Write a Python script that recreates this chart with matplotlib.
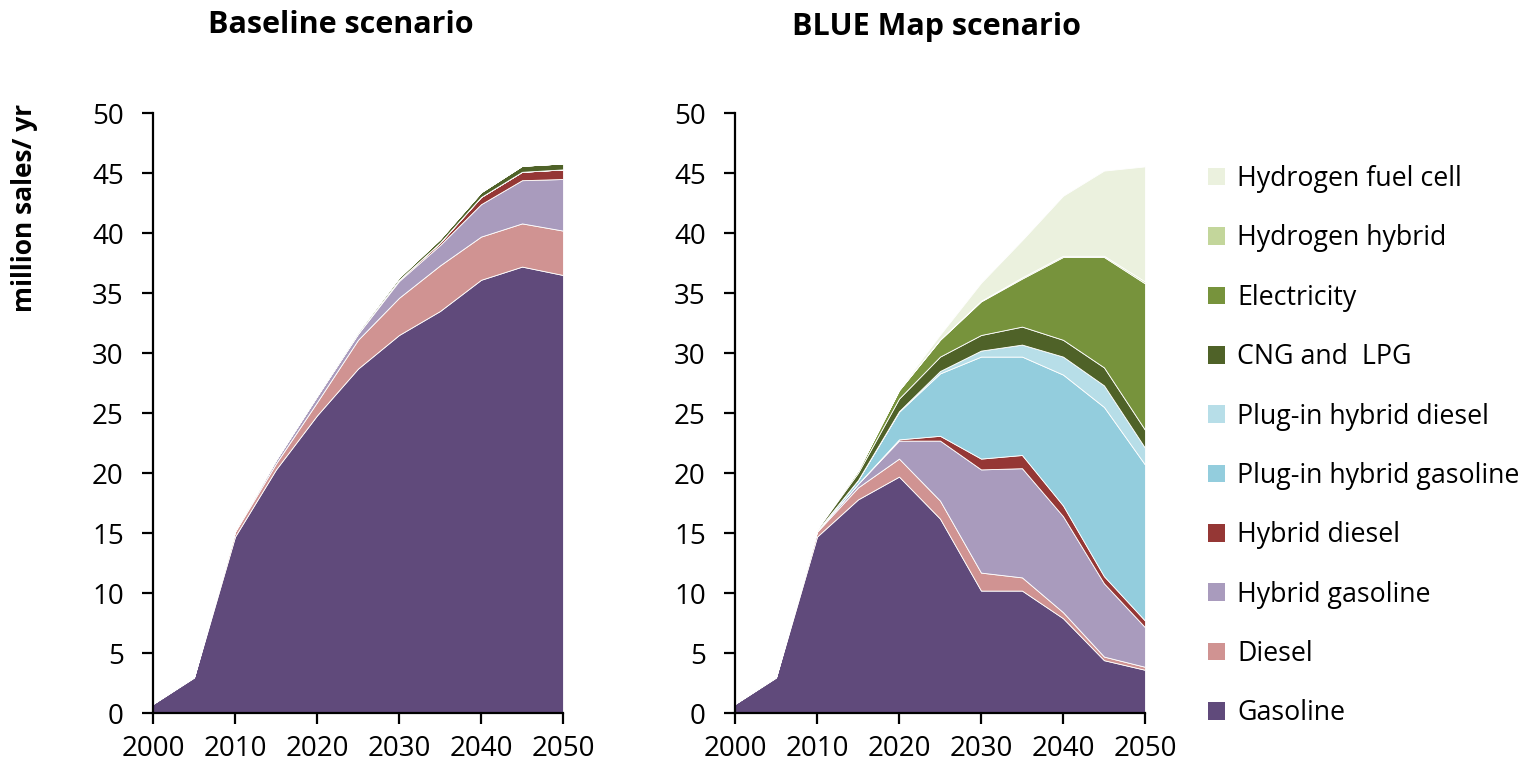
import matplotlib
matplotlib.use('Agg')
import matplotlib.pyplot as plt

plt.rcParams['font.family'] = ['Open Sans', 'DejaVu Sans']

# ---------- data (million sales / yr) ----------
years = [2000, 2005, 2010, 2015, 2020, 2025, 2030, 2035, 2040, 2045, 2050]

labels = ["Gasoline", "Diesel", "Hybrid gasoline", "Hybrid diesel",
          "Plug-in hybrid gasoline", "Plug-in hybrid diesel", "CNG and  LPG",
          "Electricity", "Hydrogen hybrid", "Hydrogen fuel cell"]
colors = ["#604A7B", "#D09392", "#A99BBD", "#953735", "#93CDDD",
          "#B7DEE8", "#4F6228", "#77933C", "#C3D69B", "#EBF1DE"]

# Baseline scenario
base_gasoline = [0.75, 2.95, 14.7, 20.3, 24.8, 28.7, 31.5, 33.5, 36.1, 37.2, 36.5]
base_diesel = [0.03, 0.05, 0.4, 0.5, 1.1, 2.4, 3.1, 3.8, 3.6, 3.6, 3.7]
base_hyb_gas = [0, 0, 0.05, 0.3, 0.5, 0.5, 1.4, 1.7, 2.7, 3.6, 4.3]
base_hyb_dsl = [0, 0, 0, 0, 0.02, 0.05, 0.1, 0.2, 0.6, 0.7, 0.8]
base_phev_gas = [0, 0, 0, 0, 0, 0, 0, 0, 0, 0, 0]
base_phev_dsl = [0, 0, 0, 0, 0, 0, 0, 0, 0, 0, 0]
base_cng = [0.03, 0.05, 0.1, 0.1, 0.1, 0.15, 0.2, 0.3, 0.4, 0.5, 0.5]
base_elec = [0, 0, 0, 0, 0, 0, 0, 0, 0, 0, 0]
base_h2_hyb = [0, 0, 0, 0, 0, 0, 0, 0, 0, 0, 0]
base_h2_fc = [0, 0, 0, 0, 0, 0, 0, 0, 0, 0, 0]

# BLUE Map scenario
blue_gasoline = [0.75, 2.95, 14.7, 17.8, 19.7, 16.2, 10.2, 10.2, 7.9, 4.4, 3.6]
blue_diesel = [0.03, 0.05, 0.4, 1.0, 1.5, 1.5, 1.5, 1.1, 0.5, 0.3, 0.25]
blue_hyb_gas = [0, 0, 0.05, 0.3, 1.5, 5.0, 8.6, 9.1, 8.0, 6.1, 3.3]
blue_hyb_dsl = [0, 0, 0, 0, 0.1, 0.4, 0.9, 1.1, 0.9, 0.6, 0.55]
blue_phev_gas = [0, 0, 0.05, 0.3, 2.3, 5.2, 8.5, 8.2, 10.9, 14.1, 13.0]
blue_phev_dsl = [0, 0, 0, 0.02, 0.05, 0.2, 0.5, 1.0, 1.5, 1.8, 1.4]
blue_cng = [0.03, 0.05, 0.1, 0.6, 1.05, 1.2, 1.3, 1.5, 1.4, 1.5, 1.5]
blue_elec = [0, 0, 0.05, 0.2, 0.7, 1.4, 2.8, 4.0, 6.9, 9.2, 12.2]
blue_h2_hyb = [0, 0, 0, 0, 0, 0.02, 0.05, 0.1, 0.1, 0.1, 0.15]
blue_h2_fc = [0, 0, 0, 0, 0.05, 0.4, 1.5, 3.1, 5.0, 7.1, 9.6]

baseline = [base_gasoline, base_diesel, base_hyb_gas, base_hyb_dsl, base_phev_gas,
            base_phev_dsl, base_cng, base_elec, base_h2_hyb, base_h2_fc]
bluemap = [blue_gasoline, blue_diesel, blue_hyb_gas, blue_hyb_dsl, blue_phev_gas,
           blue_phev_dsl, blue_cng, blue_elec, blue_h2_hyb, blue_h2_fc]

# ---------- figure ----------
fig = plt.figure(figsize=(15.2, 7.68), dpi=100)
ax1 = fig.add_axes([153/1520, 55/768, 410/1520, 600/768])
ax2 = fig.add_axes([735/1520, 55/768, 410/1520, 600/768])

for ax, series in [(ax1, baseline), (ax2, bluemap)]:
    ax.stackplot(years, *series, colors=colors, labels=labels,
                 edgecolor='white', linewidth=0.6)
    ax.set_xlim(2000, 2050)
    ax.set_ylim(0, 50)
    ax.set_xticks(range(2000, 2051, 10))
    ax.set_yticks(range(0, 51, 5))
    for s in ['top', 'right']:
        ax.spines[s].set_visible(False)
    for s in ['left', 'bottom']:
        ax.spines[s].set_linewidth(1.6)
    ax.tick_params(axis='both', direction='out', length=8, width=1.6,
                   labelsize=20)
    ax.tick_params(axis='y', pad=13)
    ax.tick_params(axis='x', pad=8)

fig.text(341/1520, 1 - 25/768, "Baseline scenario", ha='center', va='center',
         fontsize=22, fontweight='bold')
fig.text(937/1520, 1 - 27/768, "BLUE Map scenario", ha='center', va='center',
         fontsize=22, fontweight='bold')
fig.text(25/1520, 1 - 208/768, "million sales/ yr", rotation=90, ha='center',
         va='center', fontsize=19, fontweight='bold')

handles, labs = ax2.get_legend_handles_labels()
leg = fig.legend(handles[::-1], labs[::-1], loc='upper left',
                 bbox_to_anchor=(1184/1520, 1 - 141/768), frameon=False,
                 fontsize=19.3, handlelength=0.63, handleheight=0.63,
                 handletextpad=0.45, labelspacing=1.17)
for h in leg.legend_handles:
    h.set_linewidth(0)

fig.savefig("out.png", dpi=100)
